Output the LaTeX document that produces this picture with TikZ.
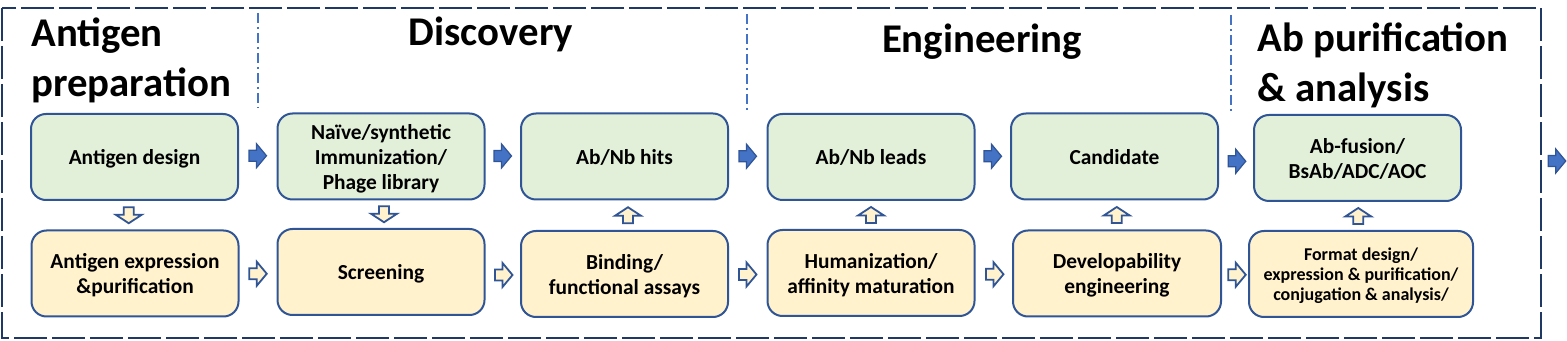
\documentclass[tikz,border=0pt]{standalone}
\usepackage{fontspec}
\setmainfont{Carlito}
\usetikzlibrary{calc}
\definecolor{frameblue}{HTML}{1F3864}
\definecolor{divblue}{HTML}{4472C4}
\definecolor{boxline}{HTML}{2F5597}
\definecolor{gfill}{HTML}{E2F0D9}
\definecolor{yfill}{HTML}{FFF2CC}
\definecolor{arrfill}{HTML}{4472C4}
\tikzset{
  box/.style={draw=boxline, line width=1pt, rounded corners=7.5pt,
    minimum width=103.5pt, minimum height=43pt, inner sep=0pt, align=center,
    text depth=0pt, font=\bfseries\fontsize{10.7}{12.5}\selectfont},
  gbox/.style={box, fill=gfill},
  ybox/.style={box, fill=yfill},
  title/.style={inner sep=0pt, font=\bfseries\fontsize{20.4}{25}\selectfont},
  divider/.style={draw=divblue, line width=0.8pt, dash pattern=on 5pt off 2pt on 1pt off 2pt},
  solidarr/.style={fill=arrfill, draw=boxline, line width=0.6pt, line join=miter},
  openarr/.style={fill=yfill, draw=boxline, line width=0.9pt, line join=miter},
  rarr/.pic={\path[pic actions] (-8.75,-5.5) -- (-1.25,-5.5) -- (-1.25,-12) -- (8.75,0) -- (-1.25,12) -- (-1.25,5.5) -- (-8.75,5.5) -- cycle;},
  darr/.pic={\path[pic actions] (-5,-8) -- (5,-8) -- (5,-0.5) -- (13,-0.5) -- (0,8) -- (-13,-0.5) -- (-5,-0.5) -- cycle;},
  uarr/.pic={\path[pic actions] (-5,8) -- (5,8) -- (5,0.5) -- (13,0.5) -- (0,-8) -- (-13,0.5) -- (-5,0.5) -- cycle;}
}
\begin{document}
\begin{tikzpicture}[x=0.5pt,y=-0.5pt]
\useasboundingbox (0,0) rectangle (1567,341);
% frame
\draw[frameblue, line width=1.3pt, dash pattern=on 16.5pt off 2.5pt] (2,8) rectangle (1541,338);
% dividers
\draw[divider] (258,13) -- (258,108);
\draw[divider] (747,14) -- (747,110);
\draw[divider] (1231,15) -- (1231,112);
% titles (base anchor = last line)
\node[title, anchor=base west, align=left] (tA) at (31,97) {Antigen\\preparation};
\node[title, anchor=base] (tD) at (491,46) {Discovery};
\node[title, anchor=base] (tE) at (982,53) {Engineering};
\node[title, anchor=base west, align=left] (tF) at (1257,102) {Ab purification\\\& analysis};
% green row
\node[gbox] (G1) at (134.5,157) {Antigen design};
\node[gbox] (G2) at (381,156.5) {Naïve/synthetic\\Immunization/\\Phage library};
\node[gbox] (G3) at (624.5,156.5) {Ab/Nb hits};
\node[gbox] (G4) at (871,157) {Ab/Nb leads};
\node[gbox] (G5) at (1114.5,156.5) {Candidate};
\node[gbox] (G6) at (1357.5,158) {Ab-fusion/\\BsAb/ADC/AOC};
% yellow row
\node[ybox] (Y1) at (135,273.5) {Antigen expression\\\&purification};
\node[ybox] (Y2) at (381,272) {Screening};
\node[ybox] (Y3) at (624.5,274) {Binding/\\functional assays};
\node[ybox] (Y4) at (871,273) {Humanization/\\affinity maturation};
\node[ybox, minimum width=104pt] (Y5) at (1117,273.5) {Developability\\engineering};
\node[ybox, minimum width=112pt, font=\bfseries\fontsize{9}{9.9}\selectfont] (Y6) at (1361,274) {Format design/\\expression \& purification/\\conjugation \& analysis/};
% horizontal arrows, green row
\pic[solidarr] at ($(G1.east)!.5!(G2.west)+(0,-1)$) {rarr};
\pic[solidarr] at ($(G2.east)!.5!(G3.west)+(0,-0.5)$) {rarr};
\pic[solidarr] at ($(G3.east)!.5!(G4.west)+(0,-0.5)$) {rarr};
\pic[solidarr] at ($(G4.east)!.5!(G5.west)+(0,-0.5)$) {rarr};
\pic[solidarr] at ($(G5.east)!.5!(G6.west)+(1,4)$) {rarr};
\coordinate (endpt) at (1557,161);
\pic[solidarr] at (endpt) {rarr};
% horizontal arrows, yellow row
\pic[openarr] at ($(Y1.east)!.5!(Y2.west)+(0,1)$) {rarr};
\pic[openarr] at ($(Y2.east)!.5!(Y3.west)+(1,2)$) {rarr};
\pic[openarr] at ($(Y3.east)!.5!(Y4.west)+(0,1)$) {rarr};
\pic[openarr] at ($(Y4.east)!.5!(Y5.west)+(1,1)$) {rarr};
\pic[openarr] at ($(Y5.east)!.5!(Y6.west)+(2,1)$) {rarr};
% vertical arrows
\pic[openarr] at ($(G1.south)!.5!(Y1.north)+(-6,0)$) {darr};
\pic[openarr] at ($(G2.south)!.5!(Y2.north)+(3,0)$) {darr};
\pic[openarr] at ($(Y3.north)!.5!(G3.south)+(3.5,0)$) {uarr};
\pic[openarr] at ($(Y4.north)!.5!(G4.south)$) {uarr};
\pic[openarr] at ($(Y5.north)!.5!(G5.south)+(1,0)$) {uarr};
\pic[openarr] at ($(Y6.north)!.5!(G6.south)+(-1,0)$) {uarr};
\end{tikzpicture}
\end{document}
